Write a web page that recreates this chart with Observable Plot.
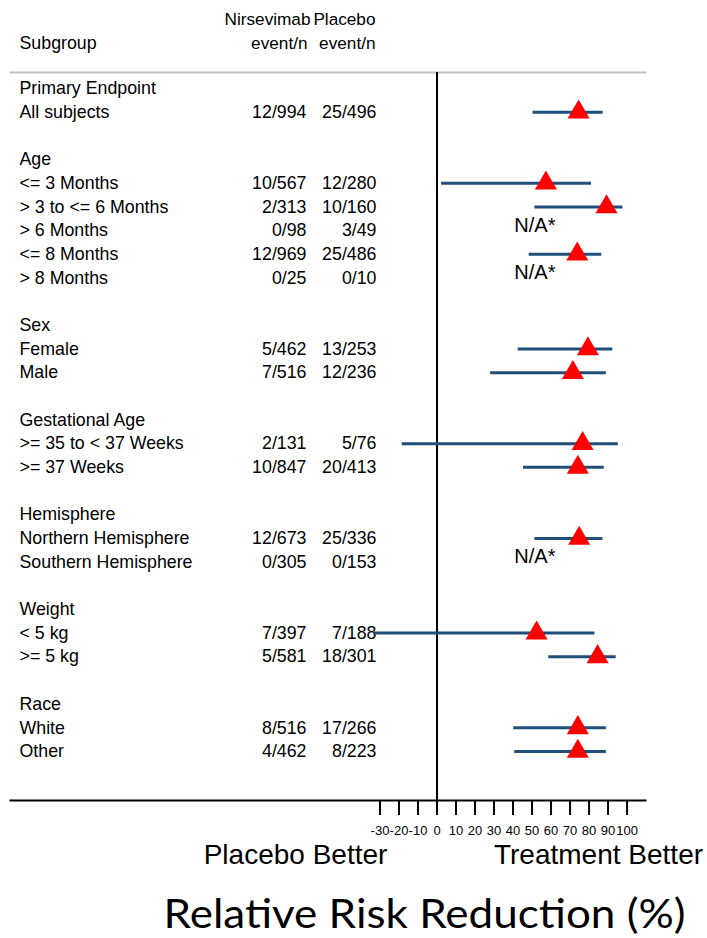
<!DOCTYPE html>
<html><head><meta charset="utf-8">
<script src="https://cdn.jsdelivr.net/npm/d3@7"></script>
<script src="https://cdn.jsdelivr.net/npm/@observablehq/plot@0.6"></script>
<style>html,body{margin:0;padding:0;background:#fff;overflow:hidden}svg{display:block}</style>
</head><body><div id="chart"></div>
<script>
// Row labels (blank strings are spacer rows)
const subgroups = ["Primary Endpoint","All subjects","",
  "Age","<= 3 Months","> 3 to <= 6 Months","> 6 Months","<= 8 Months","> 8 Months","",
  "Sex","Female","Male","",
  "Gestational Age",">= 35 to < 37 Weeks",">= 37 Weeks","",
  "Hemisphere","Northern Hemisphere","Southern Hemisphere","",
  "Weight","< 5 kg",">= 5 kg","",
  "Race","White","Other"];
const nirsevimab = ["","12/994","",
  "","10/567","2/313","0/98","12/969","0/25","",
  "","5/462","7/516","",
  "","2/131","10/847","",
  "","12/673","0/305","",
  "","7/397","5/581","",
  "","8/516","4/462"];
const placebo = ["","25/496","",
  "","12/280","10/160","3/49","25/486","0/10","",
  "","13/253","12/236","",
  "","5/76","20/413","",
  "","25/336","0/153","",
  "","7/188","18/301","",
  "","17/266","8/223"];
// Relative risk reduction (%) point estimates and 95% CI
const estimate = [null,74.5,null,
  null,57.3,89.2,null,73.8,null,null,
  null,79.4,71.5,null,
  null,76.6,74.1,null,
  null,74.8,null,null,
  null,52.4,84.5,null,
  null,74.1,74.1];
const lower = [null,50.5,null,
  null,2.4,51.5,null,48.5,null,null,
  null,42.7,28.2,null,
  null,-18.3,45.5,null,
  null,51.5,null,null,
  null,-33.3,58.8,null,
  null,40.4,40.9];
const upper = [null,87.4,null,
  null,81.3,97.8,null,86.7,null,null,
  null,92.5,89.1,null,
  null,95.4,88.0,null,
  null,87.3,null,null,
  null,83.1,94.3,null,
  null,89.1,89.1];
const notAvailable = [false,false,false,
  false,false,false,true,false,true,false,
  false,false,false,false,
  false,false,false,false,
  false,false,true,false,
  false,false,false,false,
  false,false,false];
const xTicks = [-30,-20,-10,0,10,20,30,40,50,60,70,80,90,100];

const rows = subgroups.map((label, i) => ({
  i, label, nirs: nirsevimab[i], plac: placebo[i],
  est: estimate[i], lo: lower[i], hi: upper[i], na: notAvailable[i]
}));
const ci = rows.filter(d => d.est != null);
const na = rows.filter(d => d.na);
const header1 = [{y: -2.93}];
const header2 = [{y: -1.92}];

const font = "'Liberation Sans', Arial, sans-serif";
const fs = 17.8;
const hfs = 17.2;

const chart = Plot.plot({
  width: 707,
  height: 938,
  marginLeft: 10,
  marginRight: 62,
  marginTop: 72,
  marginBottom: 138,
  style: {fontFamily: font, background: "#fff", overflow: "visible", color: "#000"},
  x: {domain: [-224.4, 109.7], axis: null},
  y: {domain: [-0.676, 30.07], reverse: true, axis: null},
  marks: [
    Plot.frame({anchor: "top", stroke: "#bfbfbf", strokeWidth: 2}),
    Plot.frame({anchor: "bottom", stroke: "#000", strokeWidth: 2}),
    Plot.ruleX([0], {stroke: "#000", strokeWidth: 2}),
    Plot.axisX({ticks: xTicks, tickSize: 15, tickPadding: 10, fontSize: 13, strokeWidth: 2, tickFormat: d => String(d), anchor: "bottom", label: null}),
    // table text
    Plot.text(rows, {y: "i", text: "label", frameAnchor: "left", dx: 9, textAnchor: "start", fontSize: fs}),
    Plot.text(rows, {y: "i", text: "nirs", frameAnchor: "left", dx: 296, textAnchor: "end", fontSize: fs}),
    Plot.text(rows, {y: "i", text: "plac", frameAnchor: "left", dx: 366, textAnchor: "end", fontSize: fs}),
    Plot.text(header1, {y: "y", text: () => "Nirsevimab", frameAnchor: "left", dx: 300, textAnchor: "end", fontSize: hfs}),
    Plot.text(header1, {y: "y", text: () => "Placebo", frameAnchor: "left", dx: 365, textAnchor: "end", fontSize: hfs}),
    Plot.text(header2, {y: "y", text: () => "Subgroup", frameAnchor: "left", dx: 9, textAnchor: "start", fontSize: fs}),
    Plot.text(header2, {y: "y", text: () => "event/n", frameAnchor: "left", dx: 297, textAnchor: "end", fontSize: hfs}),
    Plot.text(header2, {y: "y", text: () => "event/n", frameAnchor: "left", dx: 365, textAnchor: "end", fontSize: hfs}),
    // CI lines and estimates
    Plot.ruleY(ci, {y: "i", x1: "lo", x2: "hi", stroke: "#1f4e79", strokeWidth: 3}),
    Plot.dot(ci, {y: "i", x: "est", symbol: "triangle", r: 8.17, fill: "#ff0000", stroke: "none"}),
    Plot.text(na, {y: "i", x: () => 51.5, text: () => "N/A*", fontSize: 20, dy: -5}),
    // bottom labels
    Plot.text(["Placebo Better"], {frameAnchor: "bottom", lineAnchor: "middle", text: d => d, dx: -32.5, dy: 55, fontSize: 28}),
    Plot.text(["Treatment Better"], {frameAnchor: "bottom", lineAnchor: "middle", text: d => d, dx: 270.5, dy: 55, fontSize: 28}),
    Plot.text(["Relative Risk Reduction (%)"], {frameAnchor: "bottom", lineAnchor: "middle", text: d => d, dx: 96.5, dy: 115, fontSize: 40, fontFamily: "Lato, 'Open Sans', sans-serif"})
  ]
});
document.getElementById("chart").append(chart);
// Fit the bottom title to the reference width
d3.select(chart).selectAll("text").filter(function() { return this.textContent === "Relative Risk Reduction (%)"; })
  .attr("textLength", 522).attr("lengthAdjust", "spacingAndGlyphs");
</script>
</body></html>
